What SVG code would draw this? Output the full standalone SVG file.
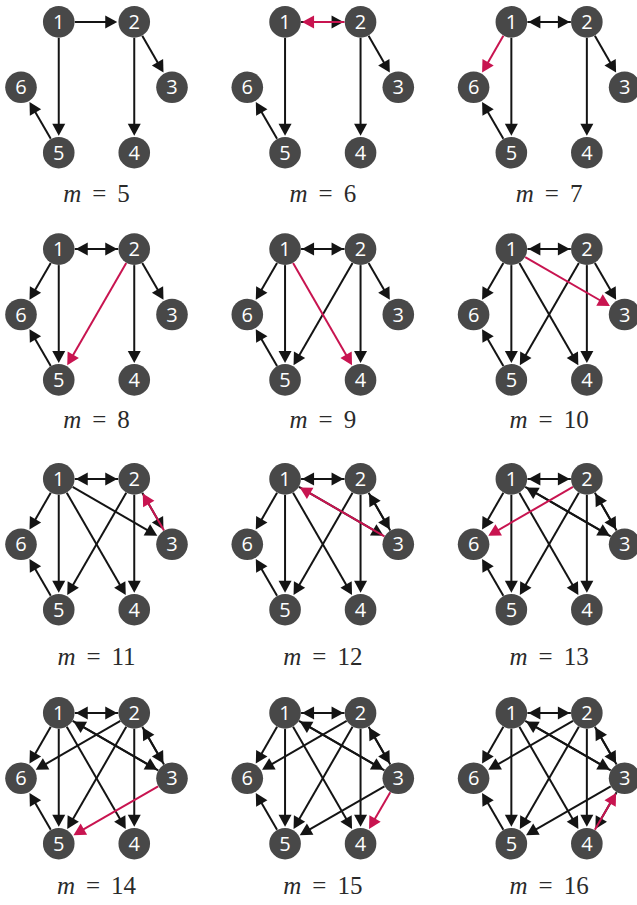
<svg xmlns="http://www.w3.org/2000/svg" width="637" height="905" viewBox="0 0 637 905">
<style>
.bg{fill:#ffffff}
.node circle{fill:#484848}
.node text{fill:#ffffff;font-family:"Open Sans","DejaVu Sans",sans-serif;font-size:20px;text-anchor:middle}
.edges use{stroke:#141414;fill:#141414}
.edges use.red{stroke:#c81450;fill:#c81450}
.lab{font-family:"Liberation Serif","Times New Roman",serif;font-size:25px;fill:#2a2a2a;text-anchor:middle}
.it{font-style:italic}
</style>
<defs>
<g id="e12"><line x1="-21.75" y1="-65.4" x2="12.75" y2="-65.4" stroke-width="2"/><polygon points="20.75,-65.4 8.75,-71.9 8.75,-58.9" stroke="none"/></g>
<g id="e21"><line x1="21.75" y1="-65.4" x2="-12.75" y2="-65.4" stroke-width="2"/><polygon points="-20.75,-65.4 -8.75,-58.9 -8.75,-71.9" stroke="none"/></g>
<g id="e15"><line x1="-37.75" y1="-49.4" x2="-37.75" y2="40.4" stroke-width="2"/><polygon points="-37.75,48.4 -44.25,36.4 -31.25,36.4" stroke="none"/></g>
<g id="e24"><line x1="37.75" y1="-49.4" x2="37.75" y2="40.4" stroke-width="2"/><polygon points="37.75,48.4 31.25,36.4 44.25,36.4" stroke="none"/></g>
<g id="e23"><line x1="45.75" y1="-51.54" x2="63" y2="-21.65" stroke-width="2"/><polygon points="67,-14.72 55.37,-21.86 66.63,-28.36" stroke="none"/></g>
<g id="e32"><line x1="67.5" y1="-13.86" x2="50.25" y2="-43.75" stroke-width="2"/><polygon points="46.25,-50.68 57.88,-43.54 46.62,-37.04" stroke="none"/></g>
<g id="e56"><line x1="-45.75" y1="51.54" x2="-63" y2="21.65" stroke-width="2"/><polygon points="-67,14.72 -55.37,21.86 -66.63,28.36" stroke="none"/></g>
<g id="e16"><line x1="-45.75" y1="-51.54" x2="-63" y2="-21.65" stroke-width="2"/><polygon points="-67,-14.72 -66.63,-28.36 -55.37,-21.86" stroke="none"/></g>
<g id="e25"><line x1="29.75" y1="-51.54" x2="-25.25" y2="43.75" stroke-width="2"/><polygon points="-29.25,50.68 -28.88,37.04 -17.62,43.54" stroke="none"/></g>
<g id="e14"><line x1="-29.75" y1="-51.54" x2="25.25" y2="43.75" stroke-width="2"/><polygon points="29.25,50.68 17.62,43.54 28.88,37.04" stroke="none"/></g>
<g id="e13"><line x1="-23.89" y1="-57.4" x2="53.85" y2="-12.5" stroke-width="2"/><polygon points="60.78,-8.5 47.14,-8.87 53.64,-20.13" stroke="none"/></g>
<g id="e31"><line x1="61.64" y1="-8" x2="-16.1" y2="-52.9" stroke-width="2"/><polygon points="-23.03,-56.9 -9.39,-56.53 -15.89,-45.27" stroke="none"/></g>
<g id="e26"><line x1="23.89" y1="-57.4" x2="-53.85" y2="-12.5" stroke-width="2"/><polygon points="-60.78,-8.5 -53.64,-20.13 -47.14,-8.87" stroke="none"/></g>
<g id="e35"><line x1="61.64" y1="8" x2="-16.1" y2="52.9" stroke-width="2"/><polygon points="-23.03,56.9 -15.89,45.27 -9.39,56.53" stroke="none"/></g>
<g id="e34"><line x1="67.5" y1="13.86" x2="50.25" y2="43.75" stroke-width="2"/><polygon points="46.25,50.68 46.62,37.04 57.88,43.54" stroke="none"/></g>
<g id="e43"><line x1="45.75" y1="51.54" x2="63" y2="21.65" stroke-width="2"/><polygon points="67,14.72 66.63,28.36 55.37,21.86" stroke="none"/></g>
</defs>
<rect class="bg" x="0" y="0" width="637" height="905"/>

<!-- m = 5 -->
<g id="panel-m5" transform="translate(96.5,87.3)">
<g id="m5-edges" class="edges"><use href="#e12"/><use href="#e15"/><use href="#e23"/><use href="#e24"/><use href="#e56"/></g>
<g id="m5-n1" class="node" transform="translate(-37.75,-65.4)"><circle r="15.8"/><text y="7">1</text></g>
<g id="m5-n2" class="node" transform="translate(37.75,-65.4)"><circle r="15.8"/><text y="7">2</text></g>
<g id="m5-n3" class="node" transform="translate(75.5,0)"><circle r="15.8"/><text y="7">3</text></g>
<g id="m5-n4" class="node" transform="translate(37.75,65.4)"><circle r="15.8"/><text y="7">4</text></g>
<g id="m5-n5" class="node" transform="translate(-37.75,65.4)"><circle r="15.8"/><text y="7">5</text></g>
<g id="m5-n6" class="node" transform="translate(-75.5,0)"><circle r="15.8"/><text y="7">6</text></g>
</g>
<text class="lab" x="96.5" y="202.3"><tspan class="it">m</tspan><tspan dx="11">=</tspan><tspan dx="11">5</tspan></text>

<!-- m = 6 -->
<g id="panel-m6" transform="translate(322.8,87.3)">
<g id="m6-edges" class="edges"><use href="#e12"/><use href="#e15"/><use href="#e23"/><use href="#e24"/><use href="#e56"/><use href="#e21" class="red"/></g>
<g id="m6-n1" class="node" transform="translate(-37.75,-65.4)"><circle r="15.8"/><text y="7">1</text></g>
<g id="m6-n2" class="node" transform="translate(37.75,-65.4)"><circle r="15.8"/><text y="7">2</text></g>
<g id="m6-n3" class="node" transform="translate(75.5,0)"><circle r="15.8"/><text y="7">3</text></g>
<g id="m6-n4" class="node" transform="translate(37.75,65.4)"><circle r="15.8"/><text y="7">4</text></g>
<g id="m6-n5" class="node" transform="translate(-37.75,65.4)"><circle r="15.8"/><text y="7">5</text></g>
<g id="m6-n6" class="node" transform="translate(-75.5,0)"><circle r="15.8"/><text y="7">6</text></g>
</g>
<text class="lab" x="322.8" y="202.3"><tspan class="it">m</tspan><tspan dx="11">=</tspan><tspan dx="11">6</tspan></text>

<!-- m = 7 -->
<g id="panel-m7" transform="translate(549.1,87.3)">
<g id="m7-edges" class="edges"><use href="#e12"/><use href="#e15"/><use href="#e23"/><use href="#e24"/><use href="#e56"/><use href="#e21"/><use href="#e16" class="red"/></g>
<g id="m7-n1" class="node" transform="translate(-37.75,-65.4)"><circle r="15.8"/><text y="7">1</text></g>
<g id="m7-n2" class="node" transform="translate(37.75,-65.4)"><circle r="15.8"/><text y="7">2</text></g>
<g id="m7-n3" class="node" transform="translate(75.5,0)"><circle r="15.8"/><text y="7">3</text></g>
<g id="m7-n4" class="node" transform="translate(37.75,65.4)"><circle r="15.8"/><text y="7">4</text></g>
<g id="m7-n5" class="node" transform="translate(-37.75,65.4)"><circle r="15.8"/><text y="7">5</text></g>
<g id="m7-n6" class="node" transform="translate(-75.5,0)"><circle r="15.8"/><text y="7">6</text></g>
</g>
<text class="lab" x="549.1" y="202.3"><tspan class="it">m</tspan><tspan dx="11">=</tspan><tspan dx="11">7</tspan></text>

<!-- m = 8 -->
<g id="panel-m8" transform="translate(96.5,314.5)">
<g id="m8-edges" class="edges"><use href="#e12"/><use href="#e15"/><use href="#e23"/><use href="#e24"/><use href="#e56"/><use href="#e21"/><use href="#e16"/><use href="#e25" class="red"/></g>
<g id="m8-n1" class="node" transform="translate(-37.75,-65.4)"><circle r="15.8"/><text y="7">1</text></g>
<g id="m8-n2" class="node" transform="translate(37.75,-65.4)"><circle r="15.8"/><text y="7">2</text></g>
<g id="m8-n3" class="node" transform="translate(75.5,0)"><circle r="15.8"/><text y="7">3</text></g>
<g id="m8-n4" class="node" transform="translate(37.75,65.4)"><circle r="15.8"/><text y="7">4</text></g>
<g id="m8-n5" class="node" transform="translate(-37.75,65.4)"><circle r="15.8"/><text y="7">5</text></g>
<g id="m8-n6" class="node" transform="translate(-75.5,0)"><circle r="15.8"/><text y="7">6</text></g>
</g>
<text class="lab" x="96.5" y="428.3"><tspan class="it">m</tspan><tspan dx="11">=</tspan><tspan dx="11">8</tspan></text>

<!-- m = 9 -->
<g id="panel-m9" transform="translate(322.8,314.5)">
<g id="m9-edges" class="edges"><use href="#e12"/><use href="#e15"/><use href="#e23"/><use href="#e24"/><use href="#e56"/><use href="#e21"/><use href="#e16"/><use href="#e25"/><use href="#e14" class="red"/></g>
<g id="m9-n1" class="node" transform="translate(-37.75,-65.4)"><circle r="15.8"/><text y="7">1</text></g>
<g id="m9-n2" class="node" transform="translate(37.75,-65.4)"><circle r="15.8"/><text y="7">2</text></g>
<g id="m9-n3" class="node" transform="translate(75.5,0)"><circle r="15.8"/><text y="7">3</text></g>
<g id="m9-n4" class="node" transform="translate(37.75,65.4)"><circle r="15.8"/><text y="7">4</text></g>
<g id="m9-n5" class="node" transform="translate(-37.75,65.4)"><circle r="15.8"/><text y="7">5</text></g>
<g id="m9-n6" class="node" transform="translate(-75.5,0)"><circle r="15.8"/><text y="7">6</text></g>
</g>
<text class="lab" x="322.8" y="428.3"><tspan class="it">m</tspan><tspan dx="11">=</tspan><tspan dx="11">9</tspan></text>

<!-- m = 10 -->
<g id="panel-m10" transform="translate(549.1,314.5)">
<g id="m10-edges" class="edges"><use href="#e12"/><use href="#e15"/><use href="#e23"/><use href="#e24"/><use href="#e56"/><use href="#e21"/><use href="#e16"/><use href="#e25"/><use href="#e14"/><use href="#e13" class="red"/></g>
<g id="m10-n1" class="node" transform="translate(-37.75,-65.4)"><circle r="15.8"/><text y="7">1</text></g>
<g id="m10-n2" class="node" transform="translate(37.75,-65.4)"><circle r="15.8"/><text y="7">2</text></g>
<g id="m10-n3" class="node" transform="translate(75.5,0)"><circle r="15.8"/><text y="7">3</text></g>
<g id="m10-n4" class="node" transform="translate(37.75,65.4)"><circle r="15.8"/><text y="7">4</text></g>
<g id="m10-n5" class="node" transform="translate(-37.75,65.4)"><circle r="15.8"/><text y="7">5</text></g>
<g id="m10-n6" class="node" transform="translate(-75.5,0)"><circle r="15.8"/><text y="7">6</text></g>
</g>
<text class="lab" x="549.1" y="428.3"><tspan class="it">m</tspan><tspan dx="11">=</tspan><tspan dx="11">10</tspan></text>

<!-- m = 11 -->
<g id="panel-m11" transform="translate(96.5,544.3)">
<g id="m11-edges" class="edges"><use href="#e12"/><use href="#e15"/><use href="#e23"/><use href="#e24"/><use href="#e56"/><use href="#e21"/><use href="#e16"/><use href="#e25"/><use href="#e14"/><use href="#e13"/><use href="#e32" class="red"/></g>
<g id="m11-n1" class="node" transform="translate(-37.75,-65.4)"><circle r="15.8"/><text y="7">1</text></g>
<g id="m11-n2" class="node" transform="translate(37.75,-65.4)"><circle r="15.8"/><text y="7">2</text></g>
<g id="m11-n3" class="node" transform="translate(75.5,0)"><circle r="15.8"/><text y="7">3</text></g>
<g id="m11-n4" class="node" transform="translate(37.75,65.4)"><circle r="15.8"/><text y="7">4</text></g>
<g id="m11-n5" class="node" transform="translate(-37.75,65.4)"><circle r="15.8"/><text y="7">5</text></g>
<g id="m11-n6" class="node" transform="translate(-75.5,0)"><circle r="15.8"/><text y="7">6</text></g>
</g>
<text class="lab" x="96.5" y="665"><tspan class="it">m</tspan><tspan dx="11">=</tspan><tspan dx="11">11</tspan></text>

<!-- m = 12 -->
<g id="panel-m12" transform="translate(322.8,544.3)">
<g id="m12-edges" class="edges"><use href="#e12"/><use href="#e15"/><use href="#e23"/><use href="#e24"/><use href="#e56"/><use href="#e21"/><use href="#e16"/><use href="#e25"/><use href="#e14"/><use href="#e13"/><use href="#e32"/><use href="#e31" class="red"/></g>
<g id="m12-n1" class="node" transform="translate(-37.75,-65.4)"><circle r="15.8"/><text y="7">1</text></g>
<g id="m12-n2" class="node" transform="translate(37.75,-65.4)"><circle r="15.8"/><text y="7">2</text></g>
<g id="m12-n3" class="node" transform="translate(75.5,0)"><circle r="15.8"/><text y="7">3</text></g>
<g id="m12-n4" class="node" transform="translate(37.75,65.4)"><circle r="15.8"/><text y="7">4</text></g>
<g id="m12-n5" class="node" transform="translate(-37.75,65.4)"><circle r="15.8"/><text y="7">5</text></g>
<g id="m12-n6" class="node" transform="translate(-75.5,0)"><circle r="15.8"/><text y="7">6</text></g>
</g>
<text class="lab" x="322.8" y="665"><tspan class="it">m</tspan><tspan dx="11">=</tspan><tspan dx="11">12</tspan></text>

<!-- m = 13 -->
<g id="panel-m13" transform="translate(549.1,544.3)">
<g id="m13-edges" class="edges"><use href="#e12"/><use href="#e15"/><use href="#e23"/><use href="#e24"/><use href="#e56"/><use href="#e21"/><use href="#e16"/><use href="#e25"/><use href="#e14"/><use href="#e13"/><use href="#e32"/><use href="#e31"/><use href="#e26" class="red"/></g>
<g id="m13-n1" class="node" transform="translate(-37.75,-65.4)"><circle r="15.8"/><text y="7">1</text></g>
<g id="m13-n2" class="node" transform="translate(37.75,-65.4)"><circle r="15.8"/><text y="7">2</text></g>
<g id="m13-n3" class="node" transform="translate(75.5,0)"><circle r="15.8"/><text y="7">3</text></g>
<g id="m13-n4" class="node" transform="translate(37.75,65.4)"><circle r="15.8"/><text y="7">4</text></g>
<g id="m13-n5" class="node" transform="translate(-37.75,65.4)"><circle r="15.8"/><text y="7">5</text></g>
<g id="m13-n6" class="node" transform="translate(-75.5,0)"><circle r="15.8"/><text y="7">6</text></g>
</g>
<text class="lab" x="549.1" y="665"><tspan class="it">m</tspan><tspan dx="11">=</tspan><tspan dx="11">13</tspan></text>

<!-- m = 14 -->
<g id="panel-m14" transform="translate(96.5,778.3)">
<g id="m14-edges" class="edges"><use href="#e12"/><use href="#e15"/><use href="#e23"/><use href="#e24"/><use href="#e56"/><use href="#e21"/><use href="#e16"/><use href="#e25"/><use href="#e14"/><use href="#e13"/><use href="#e32"/><use href="#e31"/><use href="#e26"/><use href="#e35" class="red"/></g>
<g id="m14-n1" class="node" transform="translate(-37.75,-65.4)"><circle r="15.8"/><text y="7">1</text></g>
<g id="m14-n2" class="node" transform="translate(37.75,-65.4)"><circle r="15.8"/><text y="7">2</text></g>
<g id="m14-n3" class="node" transform="translate(75.5,0)"><circle r="15.8"/><text y="7">3</text></g>
<g id="m14-n4" class="node" transform="translate(37.75,65.4)"><circle r="15.8"/><text y="7">4</text></g>
<g id="m14-n5" class="node" transform="translate(-37.75,65.4)"><circle r="15.8"/><text y="7">5</text></g>
<g id="m14-n6" class="node" transform="translate(-75.5,0)"><circle r="15.8"/><text y="7">6</text></g>
</g>
<text class="lab" x="96.5" y="894"><tspan class="it">m</tspan><tspan dx="11">=</tspan><tspan dx="11">14</tspan></text>

<!-- m = 15 -->
<g id="panel-m15" transform="translate(322.8,778.3)">
<g id="m15-edges" class="edges"><use href="#e12"/><use href="#e15"/><use href="#e23"/><use href="#e24"/><use href="#e56"/><use href="#e21"/><use href="#e16"/><use href="#e25"/><use href="#e14"/><use href="#e13"/><use href="#e32"/><use href="#e31"/><use href="#e26"/><use href="#e35"/><use href="#e34" class="red"/></g>
<g id="m15-n1" class="node" transform="translate(-37.75,-65.4)"><circle r="15.8"/><text y="7">1</text></g>
<g id="m15-n2" class="node" transform="translate(37.75,-65.4)"><circle r="15.8"/><text y="7">2</text></g>
<g id="m15-n3" class="node" transform="translate(75.5,0)"><circle r="15.8"/><text y="7">3</text></g>
<g id="m15-n4" class="node" transform="translate(37.75,65.4)"><circle r="15.8"/><text y="7">4</text></g>
<g id="m15-n5" class="node" transform="translate(-37.75,65.4)"><circle r="15.8"/><text y="7">5</text></g>
<g id="m15-n6" class="node" transform="translate(-75.5,0)"><circle r="15.8"/><text y="7">6</text></g>
</g>
<text class="lab" x="322.8" y="894"><tspan class="it">m</tspan><tspan dx="11">=</tspan><tspan dx="11">15</tspan></text>

<!-- m = 16 -->
<g id="panel-m16" transform="translate(549.1,778.3)">
<g id="m16-edges" class="edges"><use href="#e12"/><use href="#e15"/><use href="#e23"/><use href="#e24"/><use href="#e56"/><use href="#e21"/><use href="#e16"/><use href="#e25"/><use href="#e14"/><use href="#e13"/><use href="#e32"/><use href="#e31"/><use href="#e26"/><use href="#e35"/><use href="#e34"/><use href="#e43" class="red"/></g>
<g id="m16-n1" class="node" transform="translate(-37.75,-65.4)"><circle r="15.8"/><text y="7">1</text></g>
<g id="m16-n2" class="node" transform="translate(37.75,-65.4)"><circle r="15.8"/><text y="7">2</text></g>
<g id="m16-n3" class="node" transform="translate(75.5,0)"><circle r="15.8"/><text y="7">3</text></g>
<g id="m16-n4" class="node" transform="translate(37.75,65.4)"><circle r="15.8"/><text y="7">4</text></g>
<g id="m16-n5" class="node" transform="translate(-37.75,65.4)"><circle r="15.8"/><text y="7">5</text></g>
<g id="m16-n6" class="node" transform="translate(-75.5,0)"><circle r="15.8"/><text y="7">6</text></g>
</g>
<text class="lab" x="549.1" y="894"><tspan class="it">m</tspan><tspan dx="11">=</tspan><tspan dx="11">16</tspan></text>
</svg>
